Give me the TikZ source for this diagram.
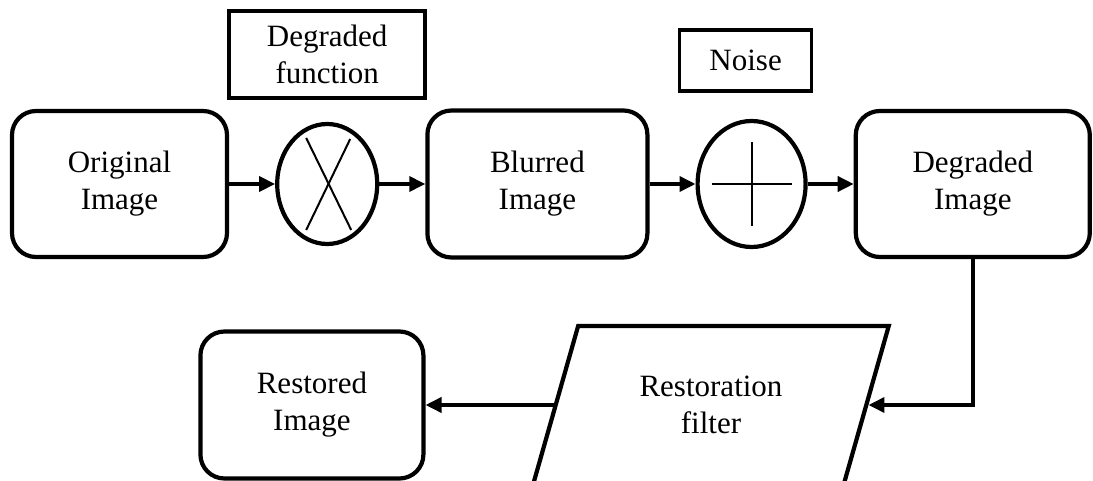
\documentclass[tikz,border=0pt]{standalone}
\usepackage{fontspec}
\setmainfont{Liberation Serif}
\usepackage{tikz}
\usetikzlibrary{positioning}
\usetikzlibrary{shapes, arrows.meta, positioning, calc}
\usetikzlibrary{chains}

\begin{document}
\begin{tikzpicture}[x=1pt,y=1pt,start chain=going right,>={Triangle[length=16pt,width=15pt]},node distance=46pt,
every node/.style={font=\fontsize{31}{37}\selectfont,align=center},
imgbox/.style={draw,rounded corners=24pt,line width=4.2pt,minimum width=215pt,minimum height=146pt},
labelbox/.style={draw,line width=3.6pt},
opnode/.style={draw,ellipse,line width=4.2pt},
flow/.style={->,line width=3.6pt}]
\useasboundingbox (0,0) rectangle (1093,480);

% the top row of blocks
\node[imgbox,on chain] (orig) at (119.5,296) {Original\\Image};
\node[opnode,on chain,minimum width=100pt,minimum height=120pt] (mult) {};
\node[imgbox,on chain,minimum width=220pt,minimum height=147pt] (blur) {Blurred\\Image};
\node[opnode,on chain,minimum width=108pt,minimum height=126pt] (add) {};
\node[imgbox,on chain,minimum width=234pt] (degr) {Degraded\\Image};

% the cross and the plus inside the operators
\draw[line width=2pt] ($(mult.center)+(-21,46)$) -- ($(mult.center)+(24,-46)$);
\draw[line width=2pt] ($(mult.center)+(23,45)$) -- ($(mult.center)+(-21,-46)$);
\draw[line width=2pt] ($(add.center)+(-40,0)$) -- ($(add.center)+(40,0)$);
\draw[line width=2pt] ($(add.center)+(0,42)$) -- ($(add.center)+(0,-42)$);

% the labels over the operators
\node[labelbox,above=22pt of mult,minimum width=196pt,minimum height=87pt] (hfun) {Degraded\\function};
\node[labelbox,above=26pt of add,xshift=-6pt,minimum width=132pt,minimum height=61pt] (noise) {Noise};

% the restoration part
\node[draw,trapezium,trapezium left angle=68.6,trapezium right angle=111.4,trapezium stretches=true,
minimum width=356pt,minimum height=158pt,line width=4.2pt] (filt) at (711,75) {Restoration\\filter};
\node[imgbox,left=128pt of filt,minimum width=223pt,minimum height=147pt] (rest) {Restored\\Image};

% the arrows
\draw[flow] (orig) -- (mult);
\draw[flow] (mult) -- (blur);
\draw[flow] (blur) -- (add);
\draw[flow] (add) -- (degr);
\draw[flow] (degr.south) |- (filt.east);
\draw[flow] (filt.west) -- (rest);
\end{tikzpicture}
\end{document}
